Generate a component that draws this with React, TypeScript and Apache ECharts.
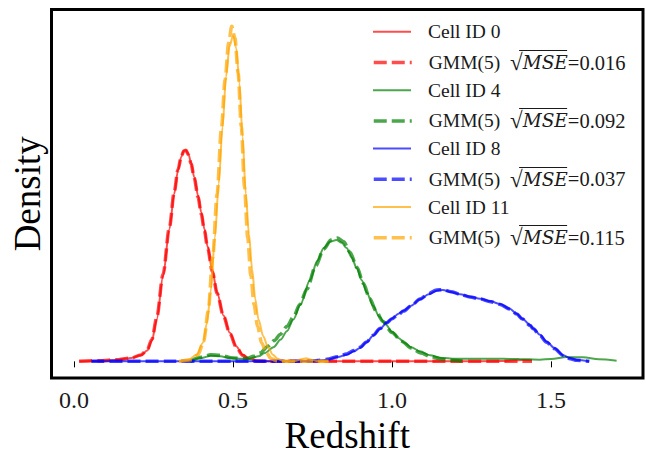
import React, { useEffect, useRef } from "react";
import * as echarts from "echarts";

const xTicks = [0.0, 0.5, 1.0, 1.5];

const cell0: number[][] = [
  [0.016, 0], [0.08, 0.02], [0.14, 0.05], [0.18, 0.1], [0.21, 0.18], [0.23, 0.32], [0.245, 0.62],
  [0.26, 1.25], [0.28, 2.55], [0.3, 3.95], [0.315, 5.0], [0.327, 5.7], [0.337, 6.1], [0.345, 6.28],
  [0.352, 6.3], [0.36, 6.18], [0.368, 5.92], [0.378, 5.5], [0.39, 4.95], [0.4, 4.45], [0.41, 3.95],
  [0.42, 3.42], [0.435, 2.7], [0.45, 2.05], [0.47, 1.37], [0.49, 0.85], [0.51, 0.45], [0.53, 0.2],
  [0.55, 0.08], [0.575, 0.02], [0.62, 0], [0.8, 0], [1.0, 0], [1.2, 0], [1.35, 0.01], [1.41, 0.04], [1.44, 0.03],
];
const gmm0: number[][] = [
  [0.016, 0], [0.08, 0.02], [0.14, 0.05], [0.18, 0.1], [0.21, 0.19], [0.23, 0.34], [0.245, 0.66],
  [0.26, 1.3], [0.28, 2.6], [0.3, 4.0], [0.315, 5.05], [0.327, 5.72], [0.337, 6.1], [0.345, 6.28],
  [0.352, 6.3], [0.36, 6.16], [0.368, 5.9], [0.378, 5.47], [0.39, 4.9], [0.4, 4.4], [0.41, 3.9],
  [0.42, 3.38], [0.435, 2.68], [0.45, 2.03], [0.47, 1.35], [0.49, 0.83], [0.51, 0.43], [0.53, 0.18],
  [0.55, 0.06], [0.575, 0.01], [0.62, 0], [0.8, 0], [1.0, 0], [1.2, 0], [1.44, 0],
];
const cell4: number[][] = [
  [0.365, 0], [0.4, 0.1], [0.43, 0.17], [0.46, 0.15], [0.49, 0.1], [0.52, 0.08], [0.553, 0.08],
  [0.58, 0.15], [0.6, 0.25], [0.627, 0.42], [0.65, 0.65], [0.669, 0.9], [0.69, 1.25], [0.711, 1.68],
  [0.742, 2.43], [0.765, 3.0], [0.785, 3.38], [0.805, 3.57], [0.825, 3.62], [0.842, 3.54], [0.857, 3.38],
  [0.873, 3.1], [0.889, 2.78], [0.905, 2.42], [0.92, 2.06], [0.94, 1.66], [0.96, 1.33], [0.98, 1.1],
  [1.0, 0.88], [1.02, 0.7], [1.04, 0.55], [1.06, 0.42], [1.088, 0.3], [1.12, 0.18], [1.151, 0.11],
  [1.2, 0.08], [1.3, 0.08], [1.4, 0.07], [1.465, 0.05], [1.5, 0.07], [1.55, 0.13], [1.6, 0.12],
  [1.65, 0.06], [1.706, 0.02],
];
const gmm4: number[][] = [
  [0.365, 0], [0.4, 0.12], [0.43, 0.2], [0.46, 0.18], [0.5, 0.1], [0.54, 0.08], [0.565, 0.15],
  [0.585, 0.25], [0.61, 0.45], [0.63, 0.62], [0.648, 0.8], [0.67, 1.05], [0.69, 1.33], [0.71, 1.7],
  [0.732, 2.15], [0.76, 2.85], [0.785, 3.35], [0.808, 3.62], [0.828, 3.68], [0.848, 3.57], [0.868, 3.25],
  [0.89, 2.8], [0.91, 2.32], [0.93, 1.87], [0.95, 1.5], [0.97, 1.2], [1.0, 0.86], [1.03, 0.6],
  [1.06, 0.4], [1.09, 0.25], [1.12, 0.15], [1.15, 0.08], [1.19, 0.03], [1.22, 0],
];
const cell8: number[][] = [
  [0.055, 0], [0.3, 0], [0.5, 0], [0.7, 0], [0.76, 0.01], [0.795, 0.05], [0.83, 0.13], [0.857, 0.2],
  [0.88, 0.3], [0.899, 0.4], [0.92, 0.57], [0.941, 0.77], [0.962, 0.97], [0.983, 1.15], [1.0, 1.28],
  [1.02, 1.42], [1.036, 1.51], [1.06, 1.66], [1.088, 1.85], [1.115, 2.0], [1.14, 2.11], [1.16, 2.13],
  [1.185, 2.07], [1.214, 2.0], [1.245, 1.93], [1.277, 1.87], [1.31, 1.79], [1.34, 1.71], [1.37, 1.57],
  [1.392, 1.42], [1.41, 1.27], [1.434, 1.08], [1.444, 0.98], [1.465, 0.79], [1.486, 0.59], [1.51, 0.4],
  [1.539, 0.18], [1.56, 0.09], [1.581, 0.04], [1.62, 0],
];
const gmm8: number[][] = [
  [0.055, 0], [0.3, 0], [0.5, 0], [0.7, 0], [0.76, 0.02], [0.795, 0.06], [0.83, 0.14], [0.857, 0.22],
  [0.88, 0.32], [0.899, 0.42], [0.92, 0.58], [0.941, 0.78], [0.962, 0.98], [0.983, 1.15], [1.0, 1.27],
  [1.02, 1.4], [1.036, 1.5], [1.06, 1.66], [1.088, 1.86], [1.115, 2.02], [1.14, 2.13], [1.16, 2.14],
  [1.185, 2.08], [1.214, 2.0], [1.245, 1.92], [1.277, 1.86], [1.31, 1.78], [1.34, 1.7], [1.37, 1.56],
  [1.392, 1.41], [1.41, 1.26], [1.434, 1.07], [1.444, 0.97], [1.465, 0.77], [1.486, 0.57], [1.51, 0.38],
  [1.539, 0.17], [1.56, 0.08], [1.581, 0.03], [1.62, 0],
];
const cell11: number[][] = [
  [0.33, 0], [0.36, 0.05], [0.385, 0.2], [0.405, 0.55], [0.418, 1.15], [0.43, 2.1], [0.443, 3.7],
  [0.455, 5.3], [0.467, 7.0], [0.478, 8.5], [0.489, 9.4], [0.5, 9.72], [0.51, 9.35], [0.52, 8.3],
  [0.53, 6.7], [0.54, 5.0], [0.55, 3.8], [0.56, 2.75], [0.57, 1.85], [0.58, 1.25], [0.595, 0.75],
  [0.61, 0.42], [0.625, 0.2], [0.64, 0.08], [0.655, 0.02], [0.675, 0], [0.695, 0.01], [0.715, 0.06],
  [0.73, 0.09], [0.745, 0.05], [0.77, 0], [0.8, 0],
];
const gmm11: number[][] = [
  [0.33, 0], [0.37, 0.05], [0.39, 0.2], [0.408, 0.6], [0.422, 1.5], [0.436, 3.1], [0.45, 5.0],
  [0.463, 6.9], [0.475, 8.4], [0.486, 9.5], [0.496, 10.0], [0.506, 9.65], [0.516, 8.6], [0.526, 7.0],
  [0.536, 5.2], [0.546, 3.7], [0.556, 2.55], [0.566, 1.7], [0.577, 1.05], [0.59, 0.55], [0.605, 0.25],
  [0.62, 0.08], [0.64, 0.01], [0.66, 0], [0.8, 0],
];

const RED = "rgba(255,0,0,0.7)";
const GREEN = "rgba(0,128,0,0.7)";
const BLUE = "rgba(0,0,255,0.7)";
const ORANGE = "rgba(255,165,0,0.7)";

const seriesDefs = [
  { name: "Cell ID 0", data: cell0, color: RED, dashed: false },
  { name: "GMM(5) √MSE=0.016", data: gmm0, color: RED, dashed: true },
  { name: "Cell ID 4", data: cell4, color: GREEN, dashed: false },
  { name: "GMM(5) √MSE=0.092", data: gmm4, color: GREEN, dashed: true },
  { name: "Cell ID 8", data: cell8, color: BLUE, dashed: false },
  { name: "GMM(5) √MSE=0.037", data: gmm8, color: BLUE, dashed: true },
  { name: "Cell ID 11", data: cell11, color: ORANGE, dashed: false },
  { name: "GMM(5) √MSE=0.115", data: gmm11, color: ORANGE, dashed: true },
];

const FONT = "Liberation Serif";
const IT_FONT = "DejaVu Serif";
const LEG_LEFT = 372;
const LEG_CY0 = 33.3;
const LEG_SHIFT = 4.5;
const LEG_ICON_W = 38;
const LEG_ICON_H = 14;
const LEG_PAD = 12;
const LEG_FS = 19.5;
const RAD_FS = 23;
const RAD_PADL = 5;
const IT_FS = 18.5;
const LEG_ROW = 29.2;
const TXT = "#1a1a1a";

const solidStyle = (c: string) => ({ color: c, width: 2 });
const dashStyle = (c: string) => ({ color: c, width: 3.5, type: [13, 5] as number[] });

export default function App() {
  const ref = useRef<HTMLDivElement>(null);
  useEffect(() => {
    if (!ref.current) return;
    const chart = echarts.init(ref.current, undefined, { renderer: "svg" });

    const cv = document.createElement("canvas");
    const ctx = cv.getContext("2d")!;
    ctx.font = `${LEG_FS}px "${FONT}"`;
    const wPre = ctx.measureText("GMM(5) ").width;
    ctx.font = `${RAD_FS}px "${FONT}"`;
    const wRad = ctx.measureText("√").width;
    ctx.font = `italic ${IT_FS}px "${IT_FONT}"`;
    const wIt = ctx.measureText("MSE").width;
    const textStart = LEG_LEFT + LEG_ICON_W + 5 + LEG_PAD;

    const legends: any[] = [];
    const overlines: any[] = [];
    seriesDefs.forEach((s, i) => {
      const cy = LEG_CY0 + i * LEG_ROW;
      const isGmm = s.dashed;
      legends.push({
        orient: "vertical",
        left: LEG_LEFT,
        top: cy - LEG_ICON_H / 2 - LEG_SHIFT,
        padding: 0,
        itemWidth: LEG_ICON_W,
        itemHeight: LEG_ICON_H,
        selectedMode: false,
        itemStyle: { color: "transparent", borderColor: "transparent", borderWidth: 0, opacity: 0 },
        data: [
          {
            name: s.name,
            itemStyle: { color: "transparent", borderColor: "transparent", borderWidth: 0, opacity: 0 },
            lineStyle: isGmm ? dashStyle(s.color) : solidStyle(s.color),
          },
        ],
        formatter: (name: string) => {
          if (name.startsWith("GMM")) {
            const val = name.split("=")[1];
            return `GMM(5) {r|√}{i|MSE}{e|=${val}}`;
          }
          return name;
        },
        textStyle: {
          fontFamily: FONT,
          fontSize: LEG_FS,
          color: TXT,
          lineHeight: LEG_ICON_H,
          padding: [0, 0, 0, LEG_PAD],
          rich: {
            r: { fontFamily: FONT, fontSize: RAD_FS, color: TXT, lineHeight: LEG_ICON_H, padding: [0, 0, 0, RAD_PADL] },
            i: { fontFamily: IT_FONT, fontSize: IT_FS, fontStyle: "italic", color: TXT, lineHeight: LEG_ICON_H },
            e: { fontFamily: FONT, fontSize: 20.5, color: TXT, lineHeight: LEG_ICON_H },
          },
        },
      });
      if (isGmm) {
        const y = Math.round(cy - 12.5) + 0.5;
        const xr = textStart + wPre + RAD_PADL;
        overlines.push({
          type: "line",
          shape: { x1: xr + wRad * 0.85, y1: y, x2: xr + wRad + wIt + 1, y2: y },
          style: { stroke: TXT, lineWidth: 1 },
          silent: true,
          z: 100,
        });
      }
    });

    chart.setOption({
      animation: false,
      backgroundColor: "#fff",
      grid: {
        left: 51.5,
        right: 3,
        top: 9.5,
        bottom: 71.5,
        show: true,
        borderColor: "#000",
        borderWidth: 3,
        backgroundColor: "transparent",
        z: 10,
      },
      legend: legends,
      xAxis: {
        type: "value",
        min: -0.0708,
        max: 1.789,
        splitLine: { show: false },
        axisLine: { show: false },
        axisTick: {
          show: true,
          customValues: xTicks,
          length: 6,
          lineStyle: { color: "#000", width: 1 },
        },
        axisLabel: {
          customValues: xTicks,
          formatter: (v: number) => v.toFixed(1),
          fontFamily: FONT,
          fontSize: 24,
          color: TXT,
          margin: 10,
        },
        name: "Redshift",
        nameLocation: "middle",
        nameGap: 53,
        nameTextStyle: { fontFamily: FONT, fontSize: 37, color: "#000", verticalAlign: "middle" },
      },
      yAxis: {
        type: "value",
        min: -0.5,
        max: 10.5,
        splitLine: { show: false },
        axisLine: { show: false },
        axisTick: { show: false },
        axisLabel: { show: false },
        name: "Density",
        nameLocation: "middle",
        nameGap: 24,
        nameTextStyle: { fontFamily: FONT, fontSize: 37, color: "#000", verticalAlign: "middle" },
      },
      series: seriesDefs.map((s) => ({
        type: "line",
        name: s.name,
        data: s.data,
        showSymbol: false,
        symbol: "none",
        smooth: 0.3,
        smoothMonotone: "x",
        color: s.color,
        lineStyle: s.dashed ? dashStyle(s.color) : solidStyle(s.color),
        emphasis: { disabled: true },
        silent: true,
      })),
      graphic: overlines,
    });
    return () => chart.dispose();
  }, []);
  return (
    <div
      ref={ref}
      style={{ position: "absolute", left: 0, top: 0, width: 646, height: 459, background: "#fff" }}
    />
  );
}
